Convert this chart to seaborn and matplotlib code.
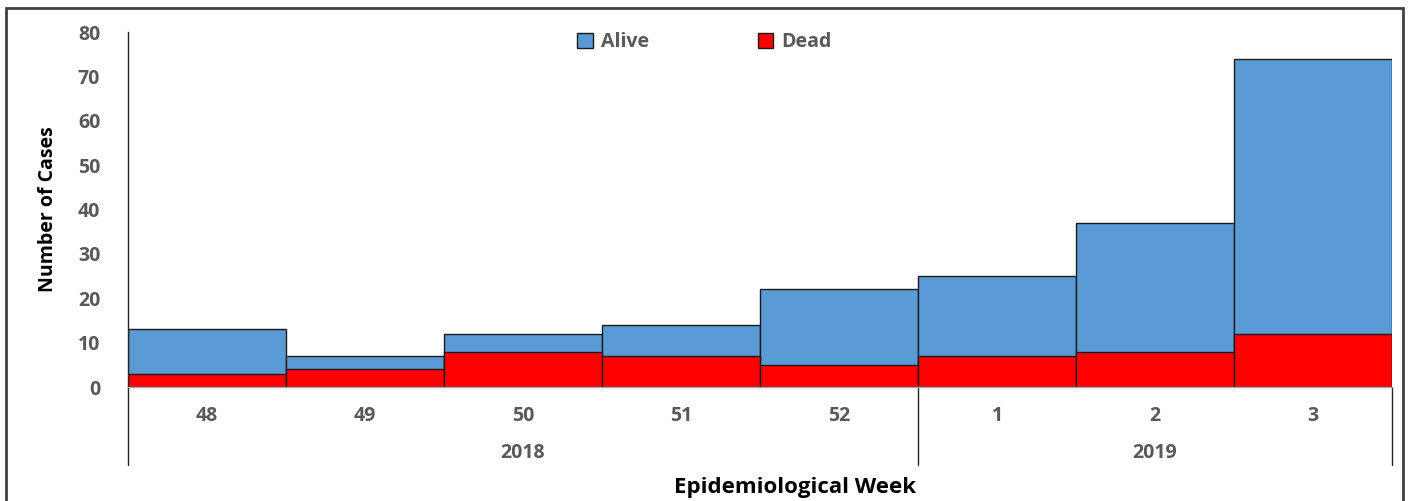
import matplotlib
matplotlib.use("Agg")
import matplotlib.pyplot as plt
import matplotlib.transforms as mtransforms
from matplotlib.patches import Patch, Rectangle
import pandas as pd
import seaborn as sns

# --- data ---
weeks = ["48", "49", "50", "51", "52", "1", "2", "3"]
alive = [10, 3, 4, 7, 17, 18, 29, 62]
dead = [3, 4, 8, 7, 5, 7, 8, 12]
years = ["2018", "2019"]
year_spans = [(0, 4), (5, 7)]  # first/last week index of each year

ALIVE_COLOR = "#5B9BD5"
DEAD_COLOR = "#FF0000"
TICK_GREY = "#595959"

sns.set_theme(style="white")
plt.rcParams["font.family"] = ["Open Sans", "DejaVu Sans"]

df = pd.DataFrame({"week": weeks, "alive": alive, "dead": dead})
df["total"] = df["alive"] + df["dead"]

fig = plt.figure(figsize=(14.15, 5.01), dpi=100)
ax = fig.add_axes([0.0905, 0.2275, 0.8932, 0.7085])

sns.barplot(data=df, x="week", y="total", order=weeks, color=ALIVE_COLOR,
            width=1.0, edgecolor="#1a1a1a", linewidth=1.0, saturation=1, ax=ax)
sns.barplot(data=df, x="week", y="dead", order=weeks, color=DEAD_COLOR,
            width=1.0, edgecolor="#1a1a1a", linewidth=1.0, saturation=1, ax=ax)

ax.set_xlim(-0.5, len(weeks) - 0.5)
ax.set_ylim(0, 80)
ax.set_yticks(range(0, 81, 10))

for s in ["top", "right"]:
    ax.spines[s].set_visible(False)
ax.spines["left"].set_color("#262626")
ax.spines["left"].set_linewidth(1.0)
ax.spines["bottom"].set_color("#a6a6a6")
ax.spines["bottom"].set_linewidth(1.0)

ax.tick_params(axis="y", length=0, pad=20, labelsize=14, labelcolor=TICK_GREY)
ax.tick_params(axis="x", length=0, pad=14, labelsize=14, labelcolor=TICK_GREY)
for lab in ax.get_xticklabels() + ax.get_yticklabels():
    lab.set_fontweight("bold")

ax.set_xlabel("")
ax.set_ylabel("Number of Cases", fontsize=14, fontweight="bold", color="black",
              labelpad=14)
fig.text(0.562, 0.026, "Epidemiological Week", ha="center", va="center",
         fontsize=16, fontweight="bold", color="black")

# year grouping: labels and separator lines below the axis
trans = mtransforms.blended_transform_factory(ax.transData, ax.transAxes)
for yr, (a, b) in zip(years, year_spans):
    ax.text((a + b) / 2, -0.185, yr, transform=trans, ha="center", va="center",
            fontsize=14, fontweight="bold", color=TICK_GREY)
for xs in [-0.5, 4.5, 7.5]:
    ax.plot([xs, xs], [0, -0.22], transform=trans, color="#262626",
            linewidth=1.0, clip_on=False)

handles = [Patch(facecolor=ALIVE_COLOR, edgecolor="#1a1a1a", label="Alive"),
           Patch(facecolor=DEAD_COLOR, edgecolor="#1a1a1a", label="Dead")]
leg = ax.legend(handles=handles, loc="center", bbox_to_anchor=(0.456, 0.972),
                ncol=2, frameon=False, columnspacing=5.6, handlelength=0.8,
                handleheight=0.8, handletextpad=0.4, fontsize=14)
for t in leg.get_texts():
    t.set_color(TICK_GREY)
    t.set_fontweight("bold")

# outer frame around the figure
fig.patches.append(Rectangle((0.004, -0.05), 0.9875, 1.034, transform=fig.transFigure,
                             fill=False, edgecolor="#404040", linewidth=2))

fig.savefig("out.png", dpi=100)
plt.close(fig)
